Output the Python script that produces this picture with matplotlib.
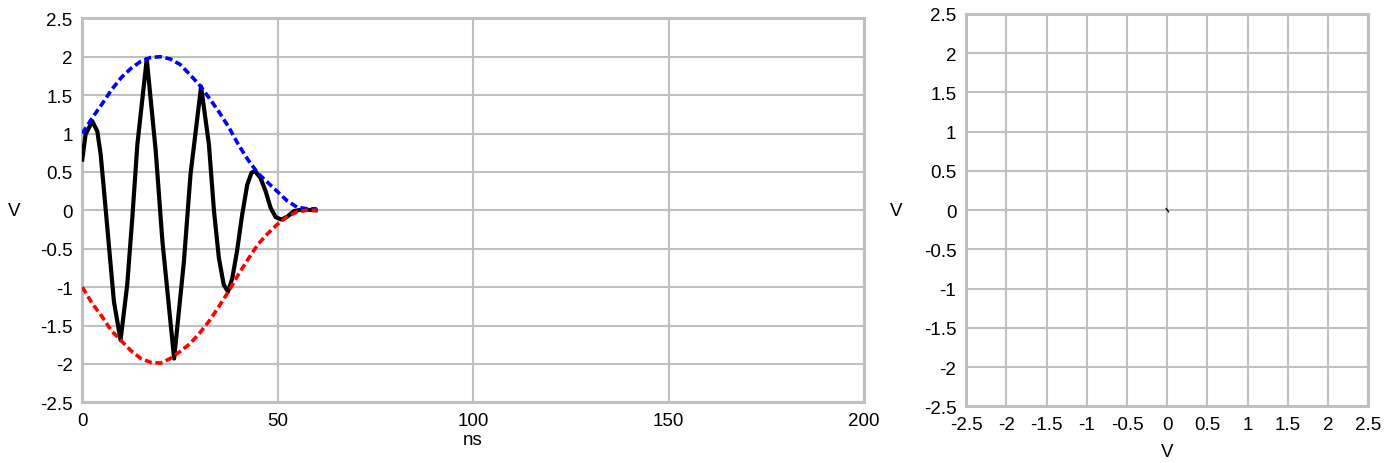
import matplotlib
matplotlib.use('Agg')
import matplotlib.pyplot as plt

plt.rcParams['font.family'] = ['Liberation Sans', 'DejaVu Sans']

# Signal (black): time in ns, value in V
sig_t = [0.0, 0.85, 2.56, 3.84, 4.7, 5.5, 6.8, 8.1, 9.8, 11.5,
         12.8, 14.1, 16.5, 18.8, 20.5, 23.5, 26.0,
         27.7, 30.4, 32.4, 33.7, 34.95, 36.2, 37.3, 38.4, 39.6,
         40.9, 42.2, 43.3, 44.2, 45.6, 46.9, 48.2, 49.5, 51.0, 52.5, 54.2,
         56.3, 59.7]
sig_v = [0.66, 0.99, 1.16, 1.03, 0.73, 0.29, -0.45, -1.19, -1.69,
         -0.97, -0.10, 0.86, 1.97, 0.77, -0.40,
         -1.93, -0.67, 0.47, 1.61, 0.86, -0.01, -0.62,
         -0.97, -1.06, -0.88, -0.53, -0.06, 0.33, 0.49, 0.51, 0.42, 0.25,
         0.03, -0.09, -0.12, -0.08, -0.01, 0.01, 0.0]

# Envelopes (dashed)
env_t = [0, 2.5, 5, 7.5, 10, 12.5, 15, 17.5, 20, 22.5, 25, 27.5, 30, 32.5,
         35, 37.5, 40, 42.5, 45, 47.5, 50, 52.5, 55, 57.5, 60]
env_hi = [1.00, 1.20, 1.38, 1.57, 1.73, 1.85, 1.94, 1.99, 2.00, 1.97, 1.90,
          1.77, 1.63, 1.46, 1.28, 1.08, 0.85, 0.65, 0.48, 0.36, 0.24, 0.12,
          0.04, 0.02, 0.02]
env_lo = [-1.00, -1.21, -1.38, -1.57, -1.70, -1.83, -1.93, -1.98, -1.99,
          -1.93, -1.84, -1.74, -1.60, -1.44, -1.25, -1.05, -0.83, -0.63,
          -0.44, -0.30, -0.18, -0.08, -0.02, 0.0, 0.0]

# X-Y view: only a tiny trace at the origin
xy_x = [-0.012, 0.016]
xy_y = [0.02, -0.02]

time_ticks = [0, 50, 100, 150, 200]
volt_ticks = [-2.5, -2, -1.5, -1, -0.5, 0, 0.5, 1, 1.5, 2, 2.5]
volt_labels = ['-2.5', '-2', '-1.5', '-1', '-0.5', '0', '0.5', '1', '1.5', '2', '2.5']

grid_col = '#c0c0c0'
fs = 13.5

fig = plt.figure(figsize=(13.85, 4.64), dpi=100)
ax1 = fig.add_axes([0.0594, 0.1308, 0.5644, 0.8276])
ax2 = fig.add_axes([0.6975, 0.1222, 0.2905, 0.8455])

for ax in (ax1, ax2):
    ax.grid(True, color=grid_col, linewidth=1.5)
    ax.set_axisbelow(True)
    for s in ax.spines.values():
        s.set_color(grid_col)
        s.set_linewidth(2.2)
    ax.tick_params(length=0, pad=7, labelsize=fs)
    ax.set_yticks(volt_ticks)
    ax.set_yticklabels(volt_labels)
    ax.set_ylim(-2.5, 2.5)

# Time plot
ax1.plot(sig_t, sig_v, color='black', linewidth=3.0, zorder=3,
         solid_joinstyle='round')
l_hi, = ax1.plot(env_t, env_hi, color='#0000ff', linewidth=2.6, zorder=4)
l_lo, = ax1.plot(env_t, env_lo, color='#ff0000', linewidth=2.6, zorder=4)
l_hi.set_dashes([2.0, 1.0])
l_lo.set_dashes([2.0, 1.0])
ax1.set_xlim(0, 200)
ax1.set_xticks(time_ticks)
ax1.set_xlabel('ns', fontsize=fs, va='center')
ax1.xaxis.set_label_coords(0.5, -0.098)
ax1.set_ylabel('V', fontsize=fs, rotation=0, va='center', ha='center')
ax1.yaxis.set_label_coords(-0.087, 0.5)

# X-Y plot
ax2.plot(xy_x, xy_y, color='black', linewidth=1.0, zorder=3)
ax2.set_xlim(-2.5, 2.5)
ax2.set_xticks(volt_ticks)
ax2.set_xticklabels(volt_labels)
ax2.set_xlabel('V', fontsize=fs, va='center')
ax2.xaxis.set_label_coords(0.5, -0.114)
ax2.set_ylabel('V', fontsize=fs, rotation=0, va='center', ha='center')
ax2.yaxis.set_label_coords(-0.174, 0.5)

fig.savefig('out.png', dpi=100)
plt.close(fig)
